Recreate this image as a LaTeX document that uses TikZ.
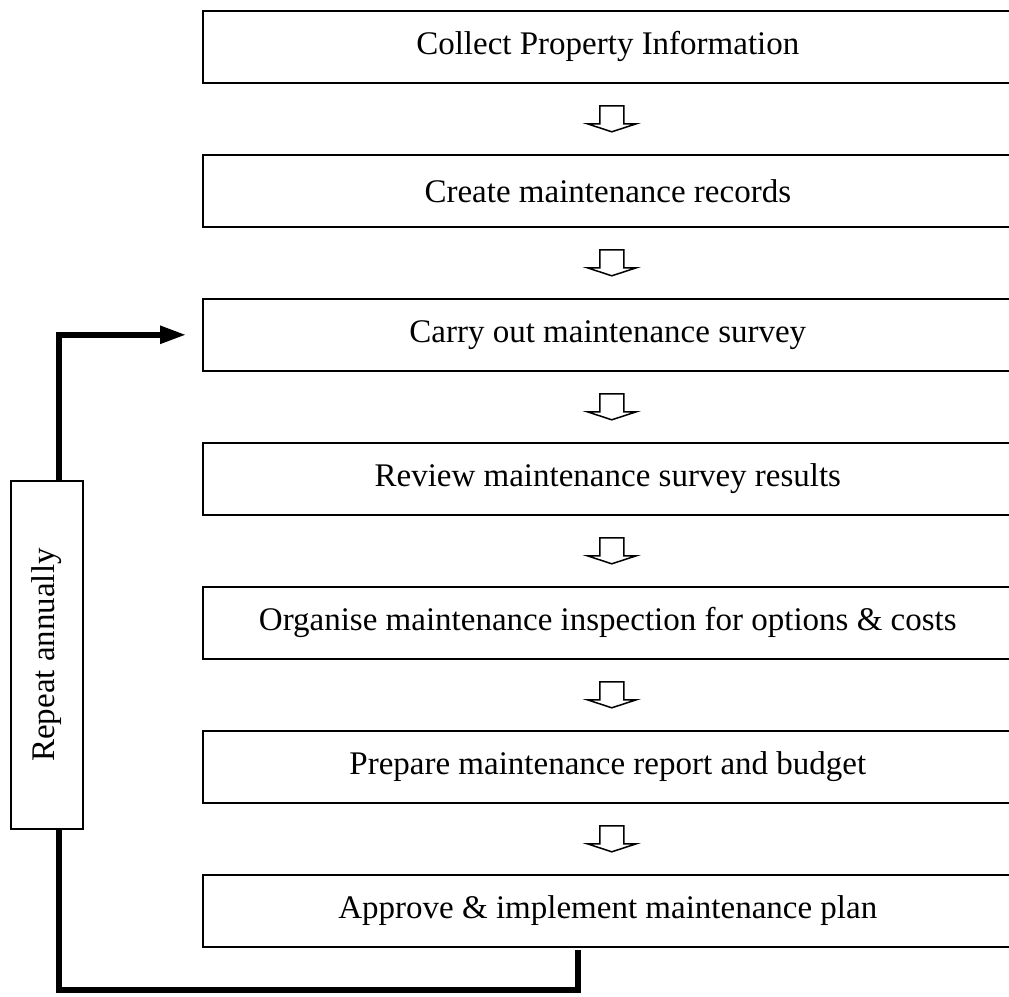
\documentclass[tikz,border=0pt]{standalone}
\usepackage{fontspec}
\setmainfont{Liberation Serif}
\usetikzlibrary{arrows.meta,calc}
\begin{document}
\begin{tikzpicture}[x=1pt,y=-1pt,
  stepbox/.style={draw, line width=1.6pt, rectangle, minimum width=810pt, minimum height=72pt, inner sep=0pt, font=\fontsize{33}{40}\selectfont, anchor=north west},
  repbox/.style={draw, line width=1.6pt, rectangle, rotate=90, minimum width=348pt, minimum height=72pt, inner sep=0pt, font=\fontsize{33}{40}\selectfont},
  fbline/.style={line width=5.5pt, line join=miter, line cap=butt},
  hollow/.pic={\draw[line width=1.5pt, line join=miter] (-12,-13) -- (12,-13) -- (12,5) -- (24.5,5) -- (0,13) -- (-24.5,5) -- (-12,5) -- cycle;}
]
\useasboundingbox (0,0) rectangle (1009,996);
\node[stepbox] (b1) at (202,10) {Collect Property Information};
\node[stepbox] (b2) at (202,154) {Create maintenance records};
\node[stepbox] (b3) at (202,298) {Carry out maintenance survey};
\node[stepbox] (b4) at (202,442) {Review maintenance survey results};
\node[stepbox] (b5) at (202,586) {Organise maintenance inspection for options \& costs};
\node[stepbox] (b6) at (202,730) {Prepare maintenance report and budget};
\node[stepbox] (b7) at (202,874) {Approve \& implement maintenance plan};
\path ($(b1.south)!0.5!(b2.north)+(4,0)$) pic {hollow};
\path ($(b2.south)!0.5!(b3.north)+(4,0)$) pic {hollow};
\path ($(b3.south)!0.5!(b4.north)+(4,0)$) pic {hollow};
\path ($(b4.south)!0.5!(b5.north)+(4,0)$) pic {hollow};
\path ($(b5.south)!0.5!(b6.north)+(4,0)$) pic {hollow};
\path ($(b6.south)!0.5!(b7.north)+(4,0)$) pic {hollow};
\node[repbox] (rep) at (47,655) {Repeat annually};
\coordinate (fbx) at (59,0);
\coordinate (fbstart) at (578,950);
\coordinate (fbbr) at (578,990);
\coordinate (fbbl) at (59,990);
\draw[fbline] (fbstart) -- (fbbr) -- (fbbl) -- (fbbl |- rep.west);
\draw[fbline, -{Triangle[length=26pt,width=17pt]}, shorten >=16pt] (fbx |- rep.east) -- (b3.west -| fbx) -- (b3.west);
\end{tikzpicture}
\end{document}
